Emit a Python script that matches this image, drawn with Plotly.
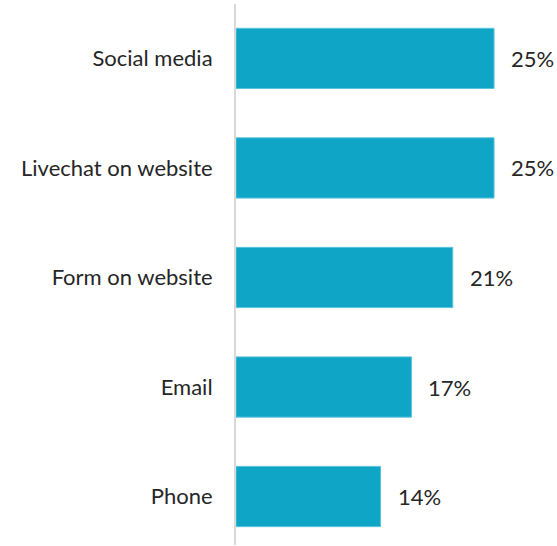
import plotly.graph_objects as go

# Preferred contact channels (share of respondents, %)
channels = ["Social media", "Livechat on website", "Form on website", "Email", "Phone"]
shares = [25, 25, 21, 17, 14]
share_labels = [f"{v}%" for v in shares]

BAR_COLOR = "#0ea5c7"
TEXT_COLOR = "#262626"
FONT = "Lato"
FONT_SIZE = 22

fig = go.Figure(
    go.Bar(
        x=shares,
        y=channels,
        orientation="h",
        width=0.55,
        marker=dict(color=BAR_COLOR, line=dict(color="#5cc3dc", width=1)),
        hoverinfo="skip",
    )
)

# value labels placed just right of each bar end
for ch, v, lab in zip(channels, shares, share_labels):
    fig.add_annotation(
        x=v,
        y=ch,
        text=lab,
        showarrow=False,
        xanchor="left",
        yanchor="middle",
        xshift=15,
        font=dict(family=FONT, size=FONT_SIZE, color=TEXT_COLOR),
    )

fig.update_layout(
    width=557,
    height=546,
    margin=dict(l=236, r=0, t=4, b=1),
    paper_bgcolor="white",
    plot_bgcolor="white",
    showlegend=False,
    font=dict(family=FONT, size=FONT_SIZE, color=TEXT_COLOR),
)

fig.update_xaxes(
    range=[0, 31.1],
    showgrid=False,
    zeroline=False,
    showticklabels=False,
    showline=False,
)

fig.update_yaxes(
    type="category",
    categoryorder="array",
    categoryarray=channels,
    range=[4.4425, -0.497],
    showgrid=False,
    zeroline=False,
    showline=True,
    linecolor="#d9d9d9",
    linewidth=2,
    ticks="",
    ticklabelstandoff=17,
    tickfont=dict(family=FONT, size=FONT_SIZE, color=TEXT_COLOR),
)

fig.write_html("out.html")
